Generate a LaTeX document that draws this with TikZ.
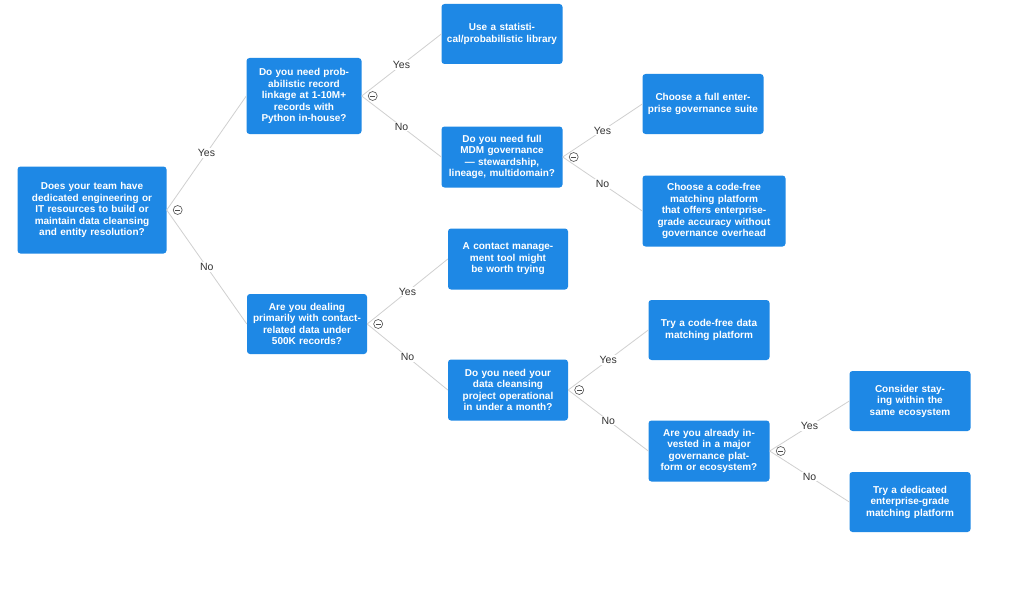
\documentclass[tikz,border=0pt]{standalone}
\usepackage{fontspec}
\setmainfont{Liberation Sans}
\begin{document}
\begin{tikzpicture}[x=1pt,y=-1pt,
  box/.style={fill=boxblue,text=white,rounded corners=3pt,align=center,font=\bfseries\fontsize{10}{11.5}\selectfont,inner sep=2pt},
  conn/.style={draw=linegray,line width=0.8pt},
  lbl/.style={fill=white,inner sep=1pt,font=\fontsize{10.5}{12}\selectfont,text=black!80},
  tog/.style={circle,draw=black!70,fill=white,minimum size=9pt,inner sep=0pt,line width=0.6pt}]
\definecolor{boxblue}{HTML}{1E88E5}
\definecolor{linegray}{HTML}{D0D0D0}
\useasboundingbox (0,0) rectangle (1024,599);
\fill[white] (0,0) rectangle (1024,599);
\newcommand{\bx}[6]{\node[box,minimum width=#3pt,minimum height=#4pt,text width=#3pt-8pt] (#5) at (#1,#2) {#6};}
\bx{92}{210}{149}{87}{A}{Does your team have dedicated engineering or IT resources to build or maintain data cleansing and entity resolution?}
\bx{304}{96}{115}{76}{B}{Do you need probabilistic record linkage at 1-10M+ records with Python in-house?}
\bx{502}{34}{121}{60}{C}{Use a statistical/probabilistic library}
\bx{502}{157}{121}{61}{D}{Do you need full MDM governance — stewardship, lineage, multidomain?}
\bx{703}{104}{121}{60}{E}{Choose a full enterprise governance suite}
\bx{714}{211}{143}{71}{F}{Choose a code-free matching platform that offers enterprise-grade accuracy without governance overhead}
\bx{307}{324}{120}{60}{G}{Are you dealing primarily with contact-related data under 500K records?}
\bx{508}{259}{120}{61}{H}{A contact management tool might be worth trying}
\bx{508}{390}{120}{61}{I}{Do you need your data cleansing project operational in under a month?}
\bx{709}{330}{121}{60}{J}{Try a code-free data matching platform}
\bx{709}{451}{121}{61}{K}{Are you already invested in a major governance platform or ecosystem?}
\bx{910}{401}{121}{60}{L}{Consider staying within the same ecosystem}
\bx{910}{502}{121}{60}{M}{Try a dedicated enterprise-grade matching platform}
\newcommand{\edge}[3]{\draw[conn] (#1.east) -- node[lbl]{#3} (#2.west);}
\newcommand{\tg}[1]{\node[tog] (t#1) at ([xshift=11pt]#1.east) {}; \draw[black!70,line width=0.6pt] ([xshift=-2.3pt]t#1.center) -- ([xshift=2.3pt]t#1.center);}
\edge{A}{B}{Yes}\edge{A}{G}{No}
\edge{B}{C}{Yes}\edge{B}{D}{No}
\edge{D}{E}{Yes}\edge{D}{F}{No}
\edge{G}{H}{Yes}\edge{G}{I}{No}
\edge{I}{J}{Yes}\edge{I}{K}{No}
\edge{K}{L}{Yes}\edge{K}{M}{No}
\tg{A}\tg{B}\tg{D}\tg{G}\tg{I}\tg{K}
\end{tikzpicture}
\end{document}
